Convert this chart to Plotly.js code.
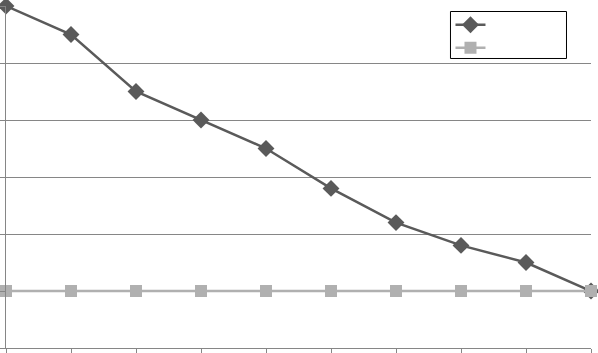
<!DOCTYPE html>
<html><head><meta charset="utf-8">
<script src="https://cdn.plot.ly/plotly-3.0.1.min.js"></script>
<style>html,body{margin:0;padding:0;background:#fff}#c{width:598px;height:353px}</style>
</head><body><div id="c"></div>
<script>
const categories = [1,2,3,4,5,6,7,8,9,10];
const series1 = [100, 90, 70, 60, 50, 36, 24, 16, 10, 0];
const series2 = [0, 0, 0, 0, 0, 0, 0, 0, 0, 0];
const seriesNames = ['\u00a0', '\u00a0'];

const traces = [
  {x: categories, y: series1, name: seriesNames[0], legendgroup: 'a', type: 'scatter', mode: 'lines+markers',
   cliponaxis: false,
   line: {color: '#5a5a5a', width: 2.5}, marker: {symbol: 'diamond', size: 13, color: '#5a5a5a'}},
  {x: categories, y: series2, name: seriesNames[1], legendgroup: 'b', type: 'scatter', mode: 'lines+markers',
   cliponaxis: false,
   line: {color: '#b0b0b0', width: 2.5}, marker: {symbol: 'square', size: 12, color: '#b0b0b0'}}
];
const layout = {
  width: 598, height: 353,
  margin: {l: 6, r: 7, t: 6, b: 5},
  paper_bgcolor: '#fff', plot_bgcolor: '#fff',
  showlegend: true,
  legend: {x: 0.7598, y: 0.9874, xanchor: 'left', yanchor: 'top', borderwidth: 0,
    bgcolor: 'rgba(0,0,0,0)', font: {size: 10, family: 'Arial', color: '#000'}, itemwidth: 30, tracegroupgap: 4},
  shapes: [{type: 'rect', xref: 'paper', yref: 'paper', x0: 0.7598, x1: 0.9581, y0: 0.8465, y1: 0.9839,
    line: {color: '#000', width: 1}, fillcolor: '#fff', layer: 'above'}],
  xaxis: {range: [1, 10], showgrid: false, zeroline: false, showticklabels: false,
    ticks: 'outside', ticklen: 5, tickcolor: '#868686', tick0: 1, dtick: 1,
    showline: true, linecolor: '#868686', linewidth: 1},
  yaxis: {range: [-20, 100], dtick: 20, showgrid: true, gridcolor: '#868686', gridwidth: 1,
    zeroline: false, showticklabels: false, ticks: 'outside', ticklen: 5, tickcolor: '#868686',
    showline: true, linecolor: '#868686', linewidth: 1}
};
Plotly.newPlot('c', traces, layout, {displayModeBar: false});
</script></body></html>
